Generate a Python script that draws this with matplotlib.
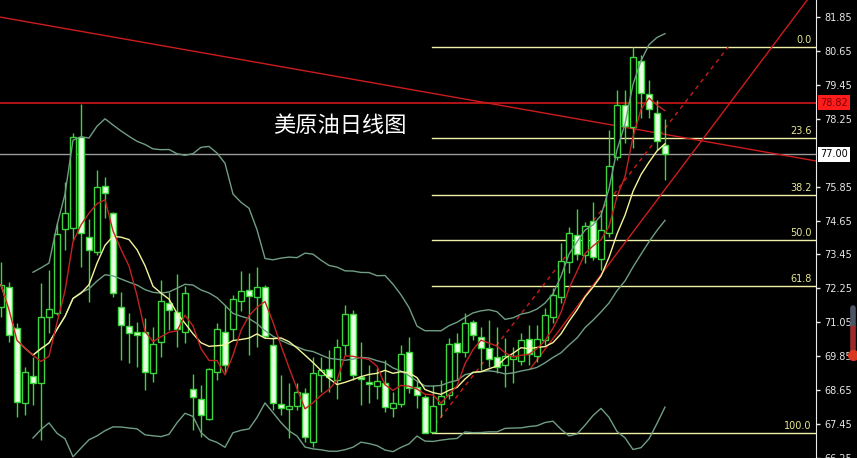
import matplotlib.pyplot as plt
import matplotlib.transforms as mtransforms
from matplotlib.lines import Line2D
import numpy as np
import pandas as pd

plt.rcParams['font.family'] = ['Noto Sans CJK SC', 'DejaVu Sans']

# daily candles, oldest first
opens = [71.60, 72.31, 70.86, 68.21, 69.16, 68.92, 71.25, 71.39, 74.36, 74.39,
         77.61, 74.07, 73.54, 75.88, 74.92, 71.60, 70.93, 70.72, 70.72, 69.27,
         70.36, 71.74, 71.42, 70.72, 68.70, 68.32, 67.64, 69.30, 70.72, 70.82,
         71.81, 72.20, 71.95, 72.31, 70.26, 68.17, 67.99, 68.10, 68.56, 66.83,
         69.20, 69.41, 69.02, 70.26, 71.35, 69.13, 68.95, 68.81, 68.92, 68.03,
         68.17, 70.01, 68.77, 68.42, 67.18, 68.17, 68.49, 70.33, 70.01, 71.07,
         70.54, 70.15, 69.83, 69.55, 69.76, 69.69, 70.47, 69.87, 70.43, 71.25,
         71.95, 73.19, 74.15, 73.44, 74.64, 73.30, 74.22, 76.90, 78.74, 77.96,
         80.29, 79.13, 78.46, 77.33]
highs = [73.19, 72.48, 71.04, 69.48, 69.83, 72.45, 72.91, 74.57, 76.02, 77.75,
         78.77, 74.71, 76.44, 76.20, 74.96, 72.13, 71.39, 71.07, 71.21, 70.89,
         72.55, 72.13, 72.77, 72.34, 69.23, 68.84, 69.45, 71.04, 71.67, 72.03,
         72.87, 72.80, 73.01, 72.38, 70.54, 69.20, 68.92, 68.92, 68.74, 69.83,
         69.83, 70.08, 70.47, 71.67, 71.49, 70.36, 69.55, 69.45, 69.73, 68.60,
         70.26, 70.54, 69.02, 68.49, 68.84, 69.02, 70.51, 70.68, 71.39, 71.14,
         70.89, 71.14, 70.89, 70.51, 70.19, 70.68, 70.96, 70.96, 71.57, 72.27,
         73.86, 74.43, 75.06, 74.60, 75.31, 75.03, 77.86, 79.27, 79.27, 80.79,
         80.51, 79.62, 78.92, 78.24]
lows = [71.25, 70.36, 67.71, 67.78, 68.14, 66.90, 70.68, 71.32, 73.62, 73.97,
        73.01, 71.78, 73.44, 74.75, 71.95, 69.73, 69.62, 69.48, 68.67, 68.95,
        69.83, 70.79, 70.19, 70.33, 67.25, 67.01, 67.61, 69.02, 69.27, 70.43,
        71.46, 69.90, 70.19, 70.51, 67.96, 67.78, 66.97, 67.96, 66.83, 66.65,
        68.60, 68.60, 68.32, 69.90, 69.02, 68.14, 68.21, 68.32, 67.89, 67.71,
        68.07, 68.56, 68.03, 67.12, 67.12, 67.71, 68.32, 69.02, 69.83, 70.43,
        69.37, 69.48, 69.27, 68.77, 68.92, 69.55, 69.55, 69.66, 70.26, 71.04,
        71.74, 72.80, 73.26, 73.16, 73.26, 72.91, 74.07, 76.80, 77.40, 77.22,
        78.28, 78.28, 77.15, 76.09]
closes = [72.38, 70.61, 68.24, 69.30, 68.92, 71.25, 71.53, 74.18, 74.92, 77.61,
          74.22, 73.62, 75.84, 75.63, 72.10, 70.96, 70.68, 70.61, 69.30, 70.29,
          71.81, 71.49, 70.82, 72.10, 68.39, 67.78, 69.41, 70.82, 69.55, 71.88,
          72.17, 71.99, 72.31, 70.58, 68.21, 68.03, 68.10, 68.60, 67.01, 69.27,
          69.37, 69.13, 70.19, 71.35, 69.20, 69.06, 68.88, 68.99, 68.07, 68.21,
          69.94, 68.74, 68.49, 67.15, 68.10, 68.46, 70.29, 70.01, 71.04, 70.61,
          70.15, 69.76, 69.48, 69.87, 69.87, 70.43, 69.94, 70.47, 71.32, 72.03,
          73.23, 74.22, 73.47, 74.46, 73.37, 74.32, 76.58, 78.74, 77.98, 80.44,
          79.16, 78.60, 77.47, 77.00]

fib_high = 80.79
fib_low = 67.12
fib_levels = [0.0, 23.6, 38.2, 50.0, 61.8, 100.0]
fib_start = 53.9
resistance = 78.82
last_price = 77.00
y_ticks = [81.85, 80.65, 79.45, 78.25, 75.85, 74.65, 73.45, 72.25,
           71.05, 69.85, 68.65, 67.45, 66.25]
down_line_x = [-0.2, 102.0]
down_line_y = [81.85, 76.75]
up_line_x = [66.1, 102.0]
up_line_y = [69.38, 82.91]
dash_line_x = [54.25, 90.9]
dash_line_y = [67.43, 80.79]
title = '美原油日线图'

green = '#3ed43e'
band_c = '#6f9e84'
ma_red = '#c42222'
ma_yel = '#f4f49a'

idx = np.arange(len(closes))
o = np.array(opens)
c = np.array(closes)
cs = pd.Series(closes)
ma5 = cs.rolling(5, min_periods=1).mean()
ma10 = cs.rolling(10, min_periods=1).mean()
mid = cs.rolling(20, min_periods=5).mean()
sd = cs.rolling(20, min_periods=5).std(ddof=0)
upper = mid + 2 * sd
lower = mid - 2 * sd

fig = plt.figure(figsize=(8.57, 4.58), dpi=100, facecolor='black')
ax = fig.add_axes([0, 0, 816 / 857, 1], facecolor='black')
ax.set_xlim(-0.125, 101.875)
ax.set_ylim(66.27, 82.45)

# horizontal levels
ax.axhline(resistance, color='#d01818', lw=1.2, zorder=2)
ax.axhline(last_price, color='#9a9a9a', lw=1, zorder=2)
rng = fib_high - fib_low
for lv in fib_levels:
    p = fib_high - lv / 100 * rng
    ax.plot([fib_start, 101.875], [p, p], color='#f0f0a8', lw=1, zorder=2)
    ax.text(101.3, p + 0.07, f'{lv:.1f}', color='#e8e890', fontsize=7,
            ha='right', va='bottom', family='DejaVu Sans', zorder=6)

# trend lines
ax.plot(down_line_x, down_line_y, color='#cc1c1c', lw=1, zorder=2)
ax.plot(up_line_x, up_line_y, color='#cc1c1c', lw=1, zorder=2)
ax.plot(dash_line_x, dash_line_y, color='#cc1c1c', lw=1, ls=(0, (3, 3)), zorder=2)

# bands and averages
ax.plot(idx, upper, color=band_c, lw=1, zorder=4)
ax.plot(idx, mid, color=band_c, lw=1, zorder=4)
ax.plot(idx, lower, color=band_c, lw=1, zorder=4)
ax.plot(idx, ma10, color=ma_yel, lw=1, zorder=4)
ax.plot(idx, ma5, color=ma_red, lw=1, zorder=4)

# candles
ax.vlines(idx, lows, highs, color=green, lw=1, zorder=3)
body_lo = np.minimum(o, c)
body_h = np.maximum(np.abs(c - o), 0.04)
fills = np.where(c >= o, 'black', '#e6ffe0')
ax.bar(idx, body_h, bottom=body_lo, width=0.68, color=fills,
       edgecolor=green, linewidth=1, zorder=3)

ax.text(34, 78.0, title, color='white', fontsize=16, ha='left', va='center',
        fontweight='light', zorder=7)

# right price scale
ax.yaxis.tick_right()
ax.set_yticks(y_ticks)
ax.set_yticklabels([f'{t:.2f}' for t in y_ticks], family='DejaVu Sans')
ax.tick_params(axis='y', colors='#e8e8e8', length=3, width=1, pad=3, labelsize=7)
ax.tick_params(axis='x', bottom=False, labelbottom=False)
for s in ['left', 'top', 'bottom']:
    ax.spines[s].set_visible(False)
ax.spines['right'].set_color('#e8e8e8')

trans = mtransforms.blended_transform_factory(ax.transAxes, ax.transData)
ax.text(1.005, resistance, f'{resistance:.2f}', transform=trans, ha='left', va='center',
        fontsize=7, color='#7a0000', family='DejaVu Sans', clip_on=False, zorder=10,
        bbox=dict(boxstyle='square,pad=0.25', fc='#ff1c1c', ec='none'))
ax.text(1.005, last_price, f'{last_price:.2f}', transform=trans, ha='left', va='center',
        fontsize=7, color='black', family='DejaVu Sans', clip_on=False, zorder=10,
        bbox=dict(boxstyle='square,pad=0.25', fc='white', ec='none'))

# small gauge at the far right
gx = 853 / 857
fig.add_artist(Line2D([gx, gx], [1 - 308 / 458, 1 - 326 / 458], color='#4c5464',
                      lw=4, solid_capstyle='round'))
fig.add_artist(Line2D([gx, gx], [1 - 326 / 458, 1 - 354 / 458], color='#9c2a2a',
                      lw=4, solid_capstyle='butt'))
fig.add_artist(Line2D([gx], [1 - 355 / 458], marker='o', color='#d8381e', ms=7, lw=0))

fig.savefig('out.png', dpi=100, facecolor='black')
